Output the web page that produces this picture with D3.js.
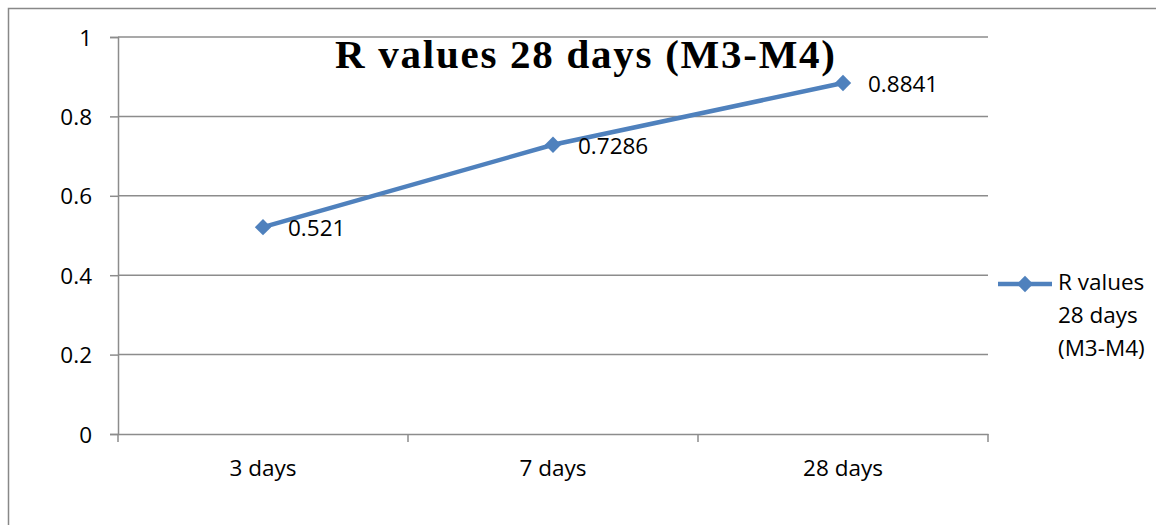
<!DOCTYPE html>
<html><head><meta charset="utf-8">
<script src="https://cdn.jsdelivr.net/npm/d3@7"></script>
<style>body{margin:0;background:#fff}svg{display:block}</style>
</head><body>
<script>
const categories = ["3 days", "7 days", "28 days"];
const values = [0.521, 0.7286, 0.8841];
const valueLabels = ["0.521", "0.7286", "0.8841"];
const yTicks = [0, 0.2, 0.4, 0.6, 0.8, 1];
const yTickLabels = ["0", "0.2", "0.4", "0.6", "0.8", "1"];
const seriesName = "R values 28 days (M3-M4)";
const legendLines = ["R values", "28 days", "(M3-M4)"];

(function () {
const W = 1156, H = 525;
const svg = d3.select("body").append("svg").attr("width", W).attr("height", H);
const font = "'Open Sans', 'Liberation Sans', sans-serif";
const fs = 22.5;
const blue = "#4F81BD", grid = "#8c8c8c";

svg.append("rect").attr("x", 8.5).attr("y", 8.5).attr("width", W + 10).attr("height", H + 10)
  .attr("fill", "none").attr("stroke", "#888").attr("stroke-width", 1.5);

const pl = 118, pr = 988, pt = 37, pb = 434;
const x = d3.scaleBand().domain(categories).range([pl, pr]);
const y = d3.scaleLinear().domain([0, 1]).range([pb, pt]);

const yAxis = d3.axisLeft(y).tickValues(yTicks).tickSize(8).tickFormat((d, i) => yTickLabels[i]);
const gy = svg.append("g").attr("transform", `translate(${pl},0)`).call(yAxis);
gy.select(".domain").attr("stroke", grid).attr("stroke-width", 1.5);
gy.selectAll(".tick line").attr("stroke", grid).attr("stroke-width", 1.5);
gy.selectAll(".tick text").attr("font-family", font).attr("font-size", fs).attr("fill", "#000")
  .attr("x", -26).attr("dy", 8);
svg.append("g").selectAll("line").data(yTicks.filter(d => d > 0)).join("line")
  .attr("x1", pl).attr("x2", pr).attr("y1", d => y(d)).attr("y2", d => y(d))
  .attr("stroke", grid).attr("stroke-width", 1.5);

const xAxis = d3.axisBottom(x).tickSize(0);
const gx = svg.append("g").attr("transform", `translate(0,${pb})`).call(xAxis);
gx.select(".domain").attr("stroke", grid).attr("stroke-width", 1.5);
gx.selectAll(".tick text").attr("font-family", font).attr("font-size", fs).attr("fill", "#000").attr("dy", 0).attr("y", 42);
const bounds = categories.map(c => x(c)).concat([pr]);
svg.append("g").selectAll("line").data(bounds).join("line")
  .attr("x1", d => d).attr("x2", d => d).attr("y1", pb).attr("y2", pb + 8)
  .attr("stroke", grid).attr("stroke-width", 1.5);

const cx = c => x(c) + x.bandwidth() / 2;
const pts = categories.map((c, i) => [cx(c), y(values[i])]);
svg.append("path").attr("d", d3.line()(pts)).attr("fill", "none").attr("stroke", blue).attr("stroke-width", 4.5);
const diamond = d3.symbol().type(d3.symbolDiamond2).size(170);
svg.append("g").selectAll("path").data(pts).join("path")
  .attr("transform", d => `translate(${d[0]},${d[1]})`).attr("d", diamond).attr("fill", blue);

svg.append("g").selectAll("text").data(pts).join("text")
  .attr("x", d => d[0] + 25).attr("y", d => d[1] + 9)
  .attr("font-family", font).attr("font-size", fs).attr("fill", "#000")
  .text((d, i) => valueLabels[i]);

svg.append("text").attr("x", 335).attr("y", 68)
  .attr("font-family", "'Liberation Serif', serif").attr("font-weight", "bold").attr("font-size", 41)
  .attr("textLength", 500).attr("lengthAdjust", "spacing")
  .text(seriesName);

const ly = 284;
svg.append("line").attr("x1", 998).attr("x2", 1052).attr("y1", ly).attr("y2", ly).attr("stroke", blue).attr("stroke-width", 4.5);
svg.append("path").attr("transform", `translate(1025,${ly})`).attr("d", diamond).attr("fill", blue);
svg.append("g").selectAll("text").data(legendLines).join("text")
  .attr("x", 1058).attr("y", (d, i) => ly + 6 + i * 33)
  .attr("font-family", font).attr("font-size", fs).attr("fill", "#000").text(d => d);
})();
</script>
</body></html>
